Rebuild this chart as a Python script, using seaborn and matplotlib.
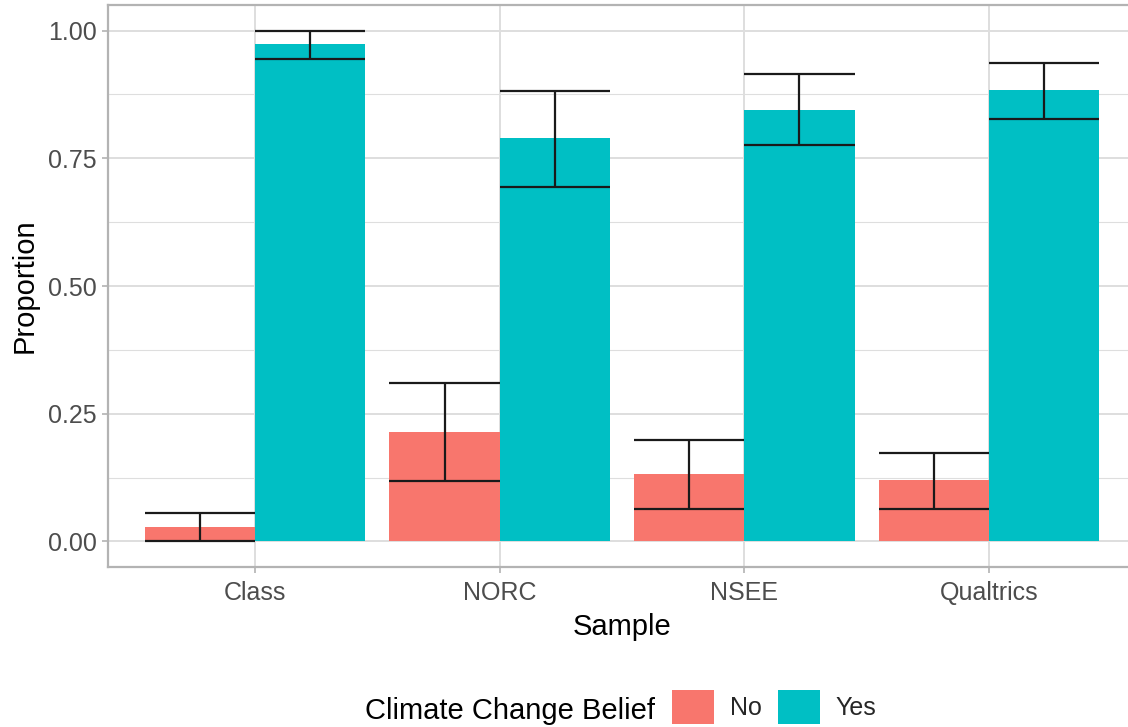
import matplotlib
matplotlib.use("Agg")
import matplotlib.pyplot as plt
import seaborn as sns
import pandas as pd
from matplotlib.patches import Patch

# ---- data ----
samples = ["Class", "NORC", "NSEE", "Qualtrics"]
beliefs = ["No", "Yes"]
prop_no = [0.028, 0.214, 0.132, 0.120]
prop_yes = [0.974, 0.790, 0.845, 0.884]
lo_no = [0.000, 0.118, 0.063, 0.063]
hi_no = [0.055, 0.310, 0.198, 0.173]
lo_yes = [0.945, 0.694, 0.776, 0.827]
hi_yes = [1.000, 0.882, 0.914, 0.937]
y_ticks = [0.00, 0.25, 0.50, 0.75, 1.00]
y_tick_labels = ["0.00", "0.25", "0.50", "0.75", "1.00"]
y_minor = [0.125, 0.375, 0.625, 0.875]
palette = {"No": "#F8766D", "Yes": "#00BFC4"}

df = pd.DataFrame({
    "Sample": samples * 2,
    "Belief": ["No"] * 4 + ["Yes"] * 4,
    "Proportion": prop_no + prop_yes,
})
lows = {"No": lo_no, "Yes": lo_yes}
highs = {"No": hi_no, "Yes": hi_yes}

sns.set_theme(style="white")
plt.rcParams["font.family"] = ["Liberation Sans", "DejaVu Sans"]

W, H = 1128, 727
fig = plt.figure(figsize=(W / 100, H / 100), dpi=100)
ax = fig.add_axes([108 / W, 1 - 567 / H, (1136 - 108) / W, (567 - 5) / H])

sns.barplot(data=df, x="Sample", y="Proportion", hue="Belief", order=samples,
            hue_order=beliefs, palette=palette, width=0.9, saturation=1,
            linewidth=0, errorbar=None, legend=False, ax=ax, zorder=2)

# error bars spanning each bar's width
for b, cont in zip(beliefs, ax.containers):
    for j, patch in enumerate(cont.patches):
        x0 = patch.get_x()
        x1 = x0 + patch.get_width()
        xc = x0 + patch.get_width() / 2
        lo, hi = lows[b][j], highs[b][j]
        ax.hlines([lo, hi], x0, x1, colors="#1a1a1a", linewidth=1.6, zorder=4)
        ax.vlines(xc, lo, hi, colors="#1a1a1a", linewidth=1.6, zorder=4)

ax.set_ylim(-0.05, 1.05)
ax.set_xlim(-0.6, 3.6)
ax.set_yticks(y_ticks)
ax.set_yticklabels(y_tick_labels)
ax.set_yticks(y_minor, minor=True)

ax.grid(True, which="major", axis="both", color="#DEDEDE", linewidth=1.4, zorder=0)
ax.grid(True, which="minor", axis="y", color="#DEDEDE", linewidth=0.8, zorder=0)
ax.set_axisbelow(True)

for s in ax.spines.values():
    s.set_color("#B3B3B3")
    s.set_linewidth(1.6)

ax.tick_params(axis="both", which="major", length=4, width=1.2, color="#B3B3B3",
               labelsize=18, labelcolor="#4D4D4D", left=True, bottom=True)
ax.tick_params(axis="x", which="major", pad=6)
ax.tick_params(axis="y", which="major", pad=4)
ax.tick_params(axis="y", which="minor", length=0)

ax.set_xlabel("Sample", fontsize=21, color="black", labelpad=6)
ax.set_ylabel("Proportion", fontsize=21, color="black", labelpad=7)

# legend at bottom, title inline on the left
fig.text(655 / W, 1 - 711 / H, "Climate Change Belief", fontsize=21,
         ha="right", va="center", color="black")
handles = [Patch(facecolor=palette[b], edgecolor="none", label=b) for b in beliefs]
leg = fig.legend(handles=handles, loc="center left",
                 bbox_to_anchor=(672 / W, 1 - 707 / H), ncol=2, frameon=False,
                 fontsize=18, handlelength=1.68, handleheight=1.68,
                 handletextpad=0.64, columnspacing=0.64, borderpad=0,
                 borderaxespad=0)

fig.savefig("out.png", dpi=100)
